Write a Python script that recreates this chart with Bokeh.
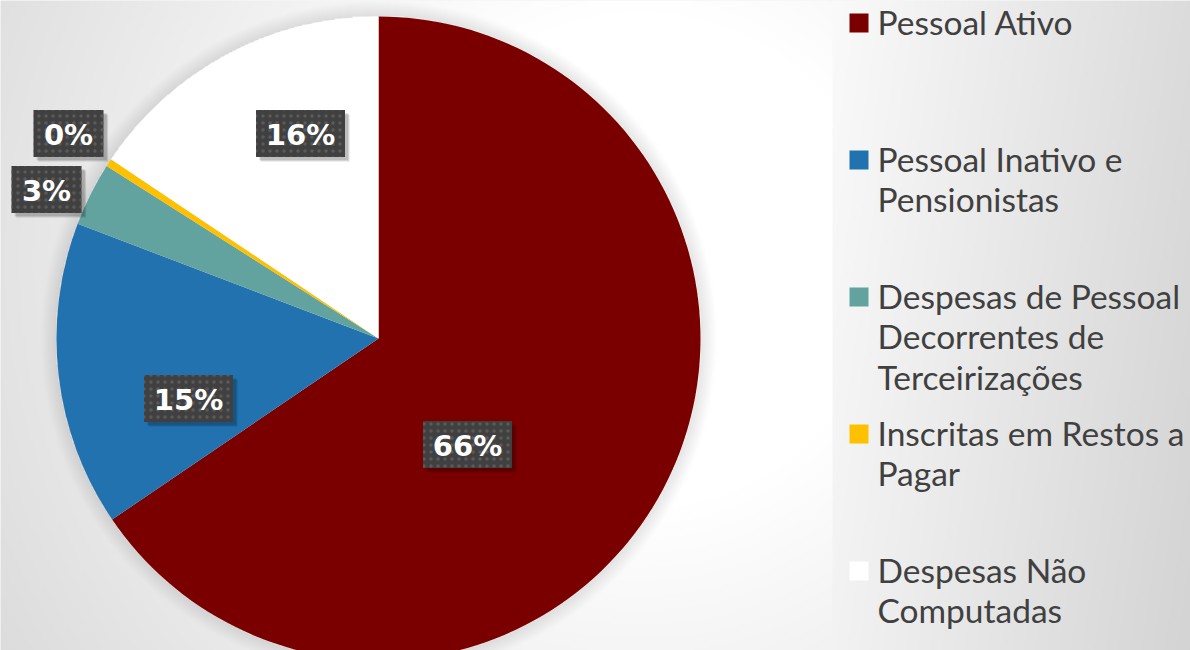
import numpy as np
from bokeh.plotting import figure
from bokeh.models import Range1d
from bokeh.core.properties import value
from bokeh.embed import file_html
from bokeh.resources import INLINE

# ---------------- data ----------------
categories = ["Pessoal Ativo", "Pessoal Inativo e Pensionistas",
              "Despesas de Pessoal Decorrentes de Terceirizações",
              "Inscritas em Restos a Pagar", "Despesas Não Computadas"]
shares = [65.5, 15.3, 3.2, 0.4, 15.6]
colors = ["#7a0000", "#2272b0", "#62a39f", "#ffc000", "#ffffff"]
legend_lines = [["Pessoal Ativo"],
                ["Pessoal Inativo e", "Pensionistas"],
                ["Despesas de Pessoal", "Decorrentes de", "Terceirizações"],
                ["Inscritas em Restos a", "Pagar"],
                ["Despesas Não", "Computadas"]]

# ---------------- layout (reference pixel space, y downward) ----------------
W, H = 1190, 650
CX, CY, R = 378, 338, 322
label_pos = [(467, 444), (188, 398), (46, 189), (68, 133), (300, 133)]
LEG_X_SQ, LEG_X_TXT, LEG_Y0, LEG_STEP, LINE_H = 858.5, 877, 22.5, 137, 40.5
TXT_OFF = -1.5
PANEL_X = 833

def fy(y):  # reference y (down) -> data y (up)
    return H - y

p = figure(width=W, height=H, output_backend="svg",
           toolbar_location=None, x_range=Range1d(0, W),
           y_range=Range1d(0, H), min_border=0)
p.axis.visible = False
p.grid.visible = False
p.outline_line_color = None
p.background_fill_color = "#eeeeee"
p.border_fill_color = "#ffffff"

# ---------------- background gradient (style only) ----------------
S = 2
xs = np.arange(0, W, S) + S / 2
ys = np.arange(0, H, S) + S / 2          # data y (up)
X, Yd = np.meshgrid(xs, ys)
Yr = H - Yd                                   # reference y
d = np.hypot(X - 640, Yr - 260)
left = 255 - np.clip(d - 250, 0, None) * 0.07
dp = np.hypot(X - CX, Yr - CY)
shadow = np.clip(1 - (dp - R) / 16, 0, 1) * (dp > R)
left = left * (1 - 0.10 * shadow)
right = 250 - 0.085 * (X - PANEL_X) - 0.012 * Yr
g = np.where(X < PANEL_X, left, right)
g = np.clip(g, 0, 255).astype(np.uint8)
img = np.empty(g.shape, dtype=np.uint32)
view = img.view(dtype=np.uint8).reshape(g.shape + (4,))
view[..., 0] = g
view[..., 1] = g
view[..., 2] = g
view[..., 3] = 255
p.image_rgba(image=[img], x=0, y=0, dw=W, dh=H)

# ---------------- pie ----------------
frac = np.array(shares) / sum(shares)
cum = np.concatenate([[0], np.cumsum(frac)])
start = np.pi / 2 - 2 * np.pi * cum[:-1]
end = np.pi / 2 - 2 * np.pi * cum[1:]
p.wedge(x=CX, y=fy(CY), radius=R, start_angle=start, end_angle=end,
        direction="clock", fill_color=colors, line_color=None)

# ---------------- data labels ----------------
labels = [f"{v:.0f}%" for v in shares]
lx = [q[0] for q in label_pos]
ly = [fy(q[1]) for q in label_pos]
bw = [32 + 19 * len(t) for t in labels]
bh = 47
for k in range(4):
    p.rect(x=[x + 3 + k * 0.6 for x in lx], y=[y - 3 - k * 0.6 for y in ly],
           width=bw, height=bh, fill_color="black", fill_alpha=0.07,
           line_color=None)
p.rect(x=lx, y=ly, width=bw, height=bh, fill_color="#404040",
       line_color=None, hatch_pattern="dot", hatch_color="#5a5a5a",
       hatch_scale=7, hatch_weight=2)
p.text(x=lx, y=[y - 1 for y in ly], text=labels, text_color="white",
       text_font=value("DejaVu Sans"), text_font_style="bold",
       text_font_size="29px", text_align="center", text_baseline="middle")

# ---------------- legend ----------------
sq_y = [fy(LEG_Y0 + LEG_STEP * i) for i in range(len(categories))]
p.rect(x=[LEG_X_SQ] * len(categories), y=sq_y, width=19, height=19,
       fill_color=colors, line_color=None)
tx, ty, tt = [], [], []
for i, lines in enumerate(legend_lines):
    for j, line in enumerate(lines):
        tx.append(LEG_X_TXT)
        ty.append(fy(LEG_Y0 + LEG_STEP * i + TXT_OFF + LINE_H * j))
        tt.append(line)
p.text(x=tx, y=ty, text=tt, text_color="#404040", text_font=value("Lato"),
       text_font_size="33.5px", text_align="left", text_baseline="alphabetic")

open("out.html", "w").write(file_html(p, INLINE))
